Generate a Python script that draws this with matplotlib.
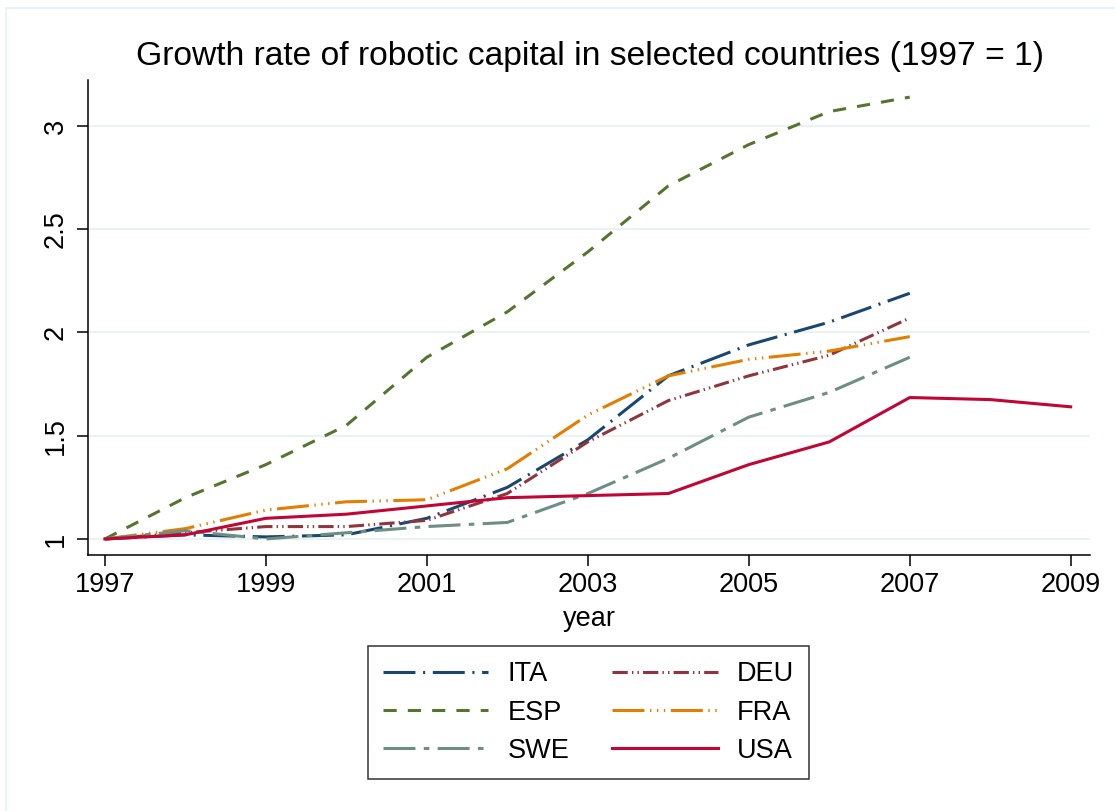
import numpy as np
import matplotlib
matplotlib.use("Agg")
import matplotlib.pyplot as plt
import matplotlib.patches as mpatches

plt.rcParams['font.family'] = ['Liberation Sans', 'DejaVu Sans']
plt.rcParams['lines.scale_dashes'] = False

years = [1997, 1998, 1999, 2000, 2001, 2002, 2003, 2004, 2005, 2006, 2007]
years_usa = years + [2008, 2009]

ita = [1.00, 1.02, 1.01, 1.02, 1.10, 1.25, 1.48, 1.79, 1.94, 2.05, 2.19]
deu = [1.00, 1.03, 1.06, 1.06, 1.09, 1.22, 1.47, 1.67, 1.79, 1.89, 2.07]
esp = [1.00, 1.20, 1.36, 1.55, 1.88, 2.10, 2.39, 2.71, 2.91, 3.07, 3.14]
fra = [1.00, 1.05, 1.14, 1.18, 1.19, 1.34, 1.60, 1.79, 1.87, 1.91, 1.98]
swe = [1.00, 1.04, 1.00, 1.03, 1.06, 1.08, 1.22, 1.39, 1.59, 1.71, 1.88]
usa = [1.00, 1.02, 1.10, 1.12, 1.16, 1.20, 1.21, 1.22, 1.36, 1.47, 1.685, 1.675, 1.64]

# s2color palette, dash patterns in points
series = [
    ("ITA", years, ita, "#1a476f", (0, (23, 5.5, 1.5, 5.5))),
    ("DEU", years, deu, "#90353b", (0, (11, 3, 1, 3, 1, 3))),
    ("ESP", years, esp, "#55752f", (0, (9.5, 8))),
    ("FRA", years, fra, "#e37e00", (0, (23, 4, 1, 4, 1, 4, 1, 4))),
    ("SWE", years, swe, "#6e8e84", (0, (23, 6, 4, 6))),
    ("USA", years_usa, usa, "#c10534", "solid"),
]

fig = plt.figure(figsize=(11.15, 8.11), dpi=100)
ax = fig.add_axes([0.0789, 0.3157, 0.8987, 0.5857])

# thin frame around the whole graph region
fig.patches.append(mpatches.Rectangle((6 / 1115, -0.1), 1.2, 1 - 8 / 811 + 0.1,
                                      transform=fig.transFigure, fill=False,
                                      edgecolor="#eaf2f3", linewidth=1.5))

handles = {}
for name, x, y, col, ls in series:
    h, = ax.plot(x, y, color=col, linestyle=ls, linewidth=2.2, label=name)
    handles[name] = h

ax.set_xlim(1996.79, 2009.24)
ax.set_ylim(0.9225, 3.223)
ax.set_xticks([1997, 1999, 2001, 2003, 2005, 2007, 2009])
ax.set_yticks([1, 1.5, 2, 2.5, 3])
ax.set_yticklabels(["1", "1.5", "2", "2.5", "3"], rotation=90, va="center")
ax.tick_params(axis="both", labelsize=19.5, length=8, width=1.1, color="black")
ax.tick_params(axis="y", length=8, pad=6)
ax.tick_params(axis="x", pad=4)
ax.grid(axis="y", color="#eaf2f3", linewidth=1.6)
ax.set_axisbelow(True)
for s in ["top", "right"]:
    ax.spines[s].set_visible(False)
for s in ["left", "bottom"]:
    ax.spines[s].set_linewidth(1.1)

ax.set_xlabel("year", fontsize=19.5, labelpad=6)
fig.text(590 / 1115, 1 - 56 / 811, "Growth rate of robotic capital in selected countries (1997 = 1)",
         fontsize=24.2, ha="center", va="center")

order = ["ITA", "ESP", "SWE", "DEU", "FRA", "USA"]
leg = fig.legend([handles[n] for n in order], order, loc="center",
                 bbox_to_anchor=(588.5 / 1115, 1 - 712.5 / 811), ncol=2,
                 fontsize=19.5, frameon=True, fancybox=False, edgecolor="black",
                 handlelength=3.9, handletextpad=0.7, columnspacing=1.6,
                 labelspacing=0.45, borderpad=0.55, borderaxespad=0)
leg.get_frame().set_linewidth(1.1)

fig.savefig("out.png", dpi=100, facecolor="white")
